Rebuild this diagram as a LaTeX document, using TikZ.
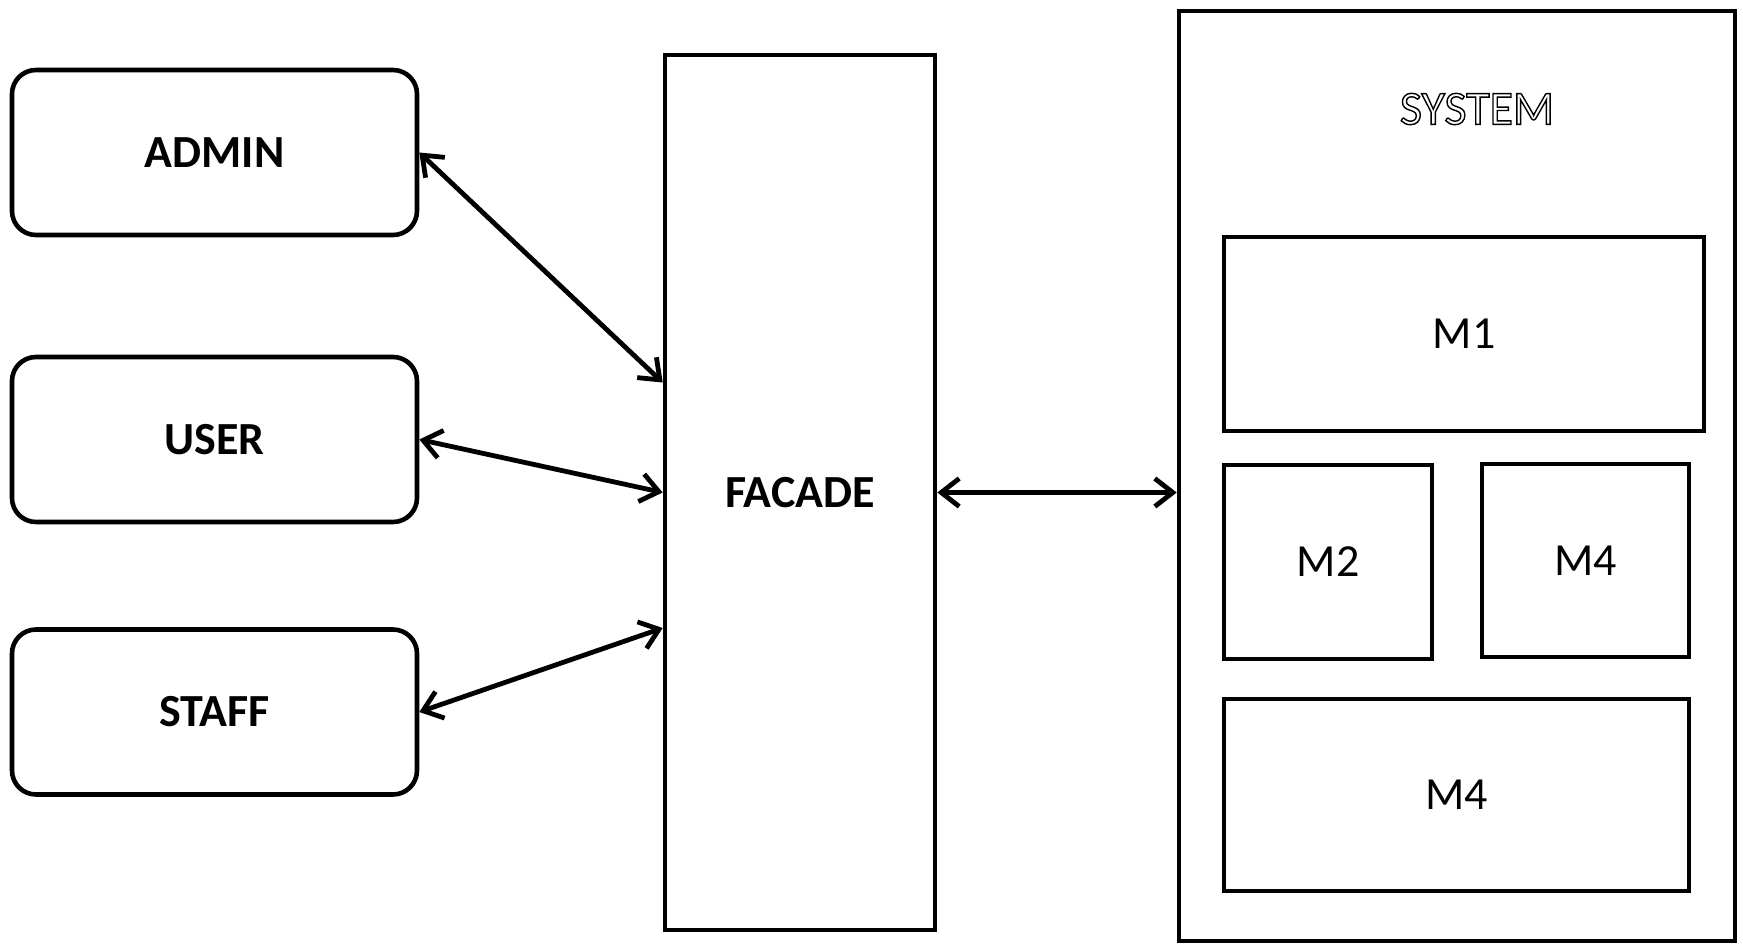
\documentclass[tikz,border=0pt]{standalone}
\usepackage{fontspec}
\setmainfont{Carlito}
\usetikzlibrary{arrows.meta}
\begin{document}
\begin{tikzpicture}[x=0.5pt,y=-0.5pt,
  actor/.style={draw,line width=2.3pt,rounded corners=12pt,minimum width=202.5pt,minimum height=82.5pt,inner sep=0pt,font=\fontsize{23}{27}\selectfont\bfseries},
  plainbox/.style={draw,line width=2.3pt,inner sep=0pt},
  modbox/.style={plainbox,font=\fontsize{23}{27}\selectfont},
  link/.style={line width=2.4pt,{Straight Barb[length=9pt,width=14pt]}-{Straight Barb[length=9pt,width=14pt]}}]
\useasboundingbox (0,0) rectangle (1743,946);
\node[actor] (admin) at (214.5,152.5) {ADMIN};
\node[actor] (user) at (214.5,439.5) {USER};
\node[actor] (staff) at (214.5,712) {STAFF};
\node[plainbox,minimum width=135pt,minimum height=437.5pt,font=\fontsize{23}{27}\selectfont\bfseries] (facade) at (800,492.5) {FACADE};
\node[plainbox,minimum width=278pt,minimum height=465pt] (system) at (1457,476) {};
\node[font=\fontsize{24}{28}\selectfont] (syslabel) at (1477,109) {\special{pdf:literal direct 1 Tr 0.7 w}SYSTEM\special{pdf:literal direct 0 Tr}};
\node[modbox,minimum width=240pt,minimum height=97pt] (m1) at (1464,334) {M1};
\node[modbox,minimum width=104pt,minimum height=97pt] (m2) at (1328,562) {M2};
\node[modbox,minimum width=103.5pt,minimum height=96.5pt] (m4a) at (1585.5,560.5) {M4};
\node[modbox,minimum width=232.5pt,minimum height=96pt] (m4b) at (1456.5,795) {M4};
\draw[link] (admin.east) -- ([yshift=55pt]facade.west);
\draw[link] (user.east) -- (facade.west);
\draw[link] (staff.east) -- ([yshift=-67.75pt]facade.west);
\draw[link] (facade.east) -- (facade.east -| system.west);
\end{tikzpicture}
\end{document}
